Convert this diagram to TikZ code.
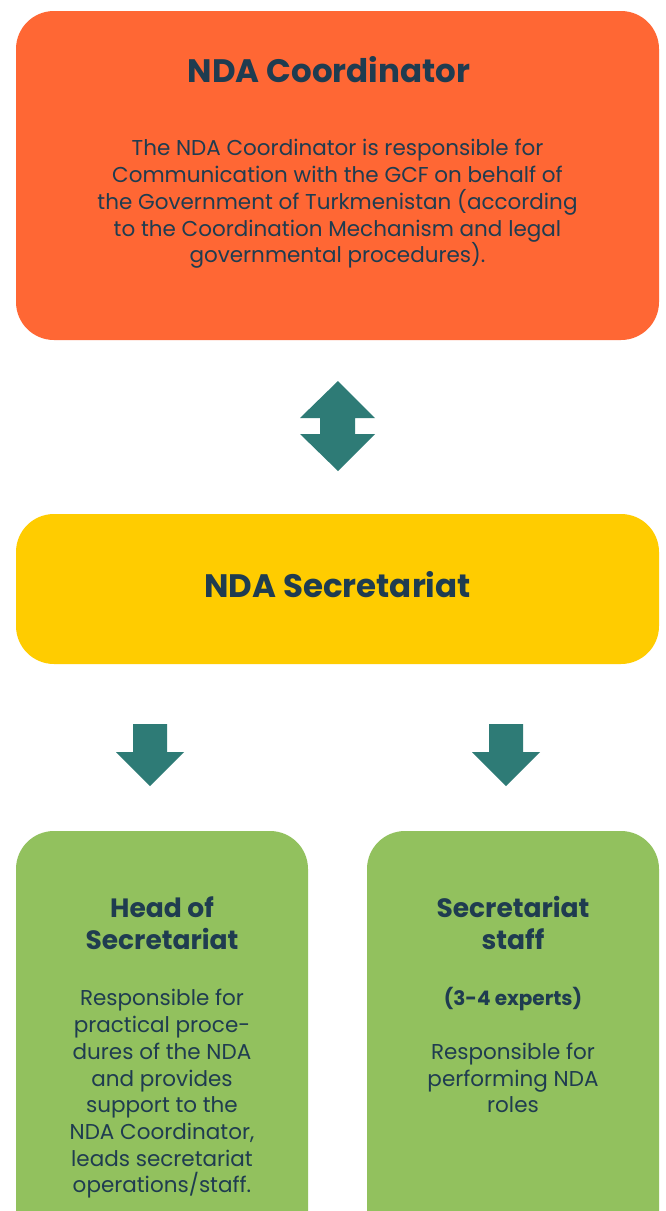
\documentclass[tikz,border=0pt]{standalone}
\usepackage{fontspec}
\setmainfont{Poppins}
\definecolor{navy}{RGB}{31,60,80}
\definecolor{orangebox}{RGB}{255,103,52}
\definecolor{yellowbox}{RGB}{255,204,0}
\definecolor{greenbox}{RGB}{146,193,94}
\definecolor{tealarrow}{RGB}{46,123,118}
\begin{document}
\begin{tikzpicture}[x=1pt,y=-1pt,
  box/.style={rounded corners=38pt, inner sep=0pt, draw=none},
  txt/.style={text=navy, align=center, inner sep=0pt, font=\fontsize{21.5}{26.7}\selectfont},
  ttl/.style={text=navy, align=center, inner sep=0pt, font=\bfseries\fontsize{32.5}{36}\selectfont},
  gttl/.style={text=navy, align=center, inner sep=0pt, font=\bfseries\fontsize{26.5}{32}\selectfont},
  sub/.style={text=navy, align=center, inner sep=0pt, font=\bfseries\fontsize{20}{24}\selectfont},
  blk/.style={fill=tealarrow, draw=none}]
\clip (0,0) rectangle (665,1211);
\fill[white] (0,0) rectangle (665,1211);
% boxes
\node[box, fill=orangebox, minimum width=643pt, minimum height=329pt] (coord) at (337.5,175.5) {};
\node[box, fill=yellowbox, minimum width=643pt, minimum height=150pt] (secr) at (337.5,589) {};
\node[box, fill=greenbox, minimum width=292pt, minimum height=420pt] (head) at (162,1041) {};
\node[box, fill=greenbox, minimum width=292pt, minimum height=420pt] (staff) at (513,1041) {};
% texts
\node[ttl] (coordT) at (329,70) {NDA Coordinator};
\node[txt] (coordB) at (337.5,204) {The NDA Coordinator is responsible for\\Communication with the GCF on behalf of\\the Government of Turkmenistan (according\\to the Coordination Mechanism and legal\\governmental procedures).};
\node[ttl] (secrT) at (337.5,585) {NDA Secretariat};
\node[gttl] (headT) at (162,923) {Head of\\Secretariat};
\node[txt] (headB) at (162,1094) {Responsible for\\practical proce-\\dures of the NDA\\and provides\\support to the\\NDA Coordinator,\\leads secretariat\\operations/staff.};
\node[gttl] (staffT) at (513,923) {Secretariat\\staff};
\node[sub] (staffS) at (513,999) {(3-4 experts)};
\node[txt] (staffB) at (513,1078) {Responsible for\\performing NDA\\roles};
% arrows
\fill[blk] (338,381) -- (375,418) -- (355,418) -- (355,434) -- (375,434) -- (338,471) -- (300,434) -- (320,434) -- (320,418) -- (300,418) -- cycle;
\fill[blk] (133,724) -- (167,724) -- (167,752) -- (184,752) -- (150,786) -- (116,752) -- (133,752) -- cycle;
\fill[blk] (489,724) -- (523,724) -- (523,752) -- (540,752) -- (506,786) -- (472,752) -- (489,752) -- cycle;
\end{tikzpicture}
\end{document}
